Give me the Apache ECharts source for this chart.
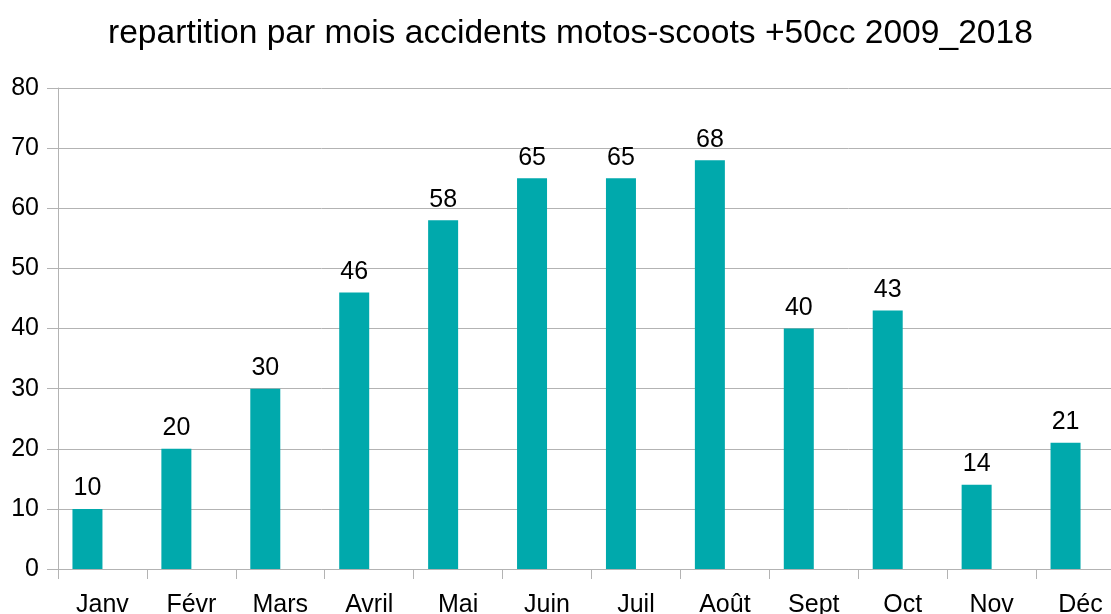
<!DOCTYPE html>
<html><head><meta charset="utf-8">
<script src="https://cdn.jsdelivr.net/npm/echarts@6/dist/echarts.min.js"></script>
<style>html,body{margin:0;padding:0;background:#fff}#c{width:1111px;height:614px}</style>
</head><body><div id="c"></div>
<script>
const titleText = "repartition par mois accidents motos-scoots +50cc 2009_2018";
const categories = ["Janv","Févr","Mars","Avril","Mai","Juin","Juil","Août","Sept","Oct","Nov","Déc"];
const accidents = [10,20,30,46,58,65,65,68,40,43,14,21];
const emptySeries = [null,null,null,null,null,null,null,null,null,null,null,null];
const yTicks = {min:0, max:80, interval:10};

const font = "'Liberation Sans', Arial, sans-serif";
const chart = echarts.init(document.getElementById('c'), null, {renderer:'canvas'});
chart.setOption({
  animation:false,
  backgroundColor:'#ffffff',
  title:{text:titleText, left:103, top:12,
    textStyle:{fontFamily:font, fontSize:33.6, fontWeight:'normal', color:'#000'}},
  grid:{left:58, width:1067, top:88, height:481, containLabel:false, outerBoundsMode:'none'},
  xAxis:{type:'category', data:categories,
    axisLine:{show:true, lineStyle:{color:'#b3b3b3', width:1}},
    axisTick:{show:true, alignWithLabel:false, length:10, lineStyle:{color:'#b3b3b3'}},
    axisLabel:{fontFamily:font, fontSize:25, color:'#000', margin:24, interval:0},
    splitLine:{show:false}},
  yAxis:{type:'value', min:yTicks.min, max:yTicks.max, interval:yTicks.interval,
    axisLine:{show:true, lineStyle:{color:'#b3b3b3', width:1}},
    axisTick:{show:true, length:11, lineStyle:{color:'#b3b3b3'}},
    axisLabel:{fontFamily:font, fontSize:25, color:'#000', margin:19},
    splitLine:{show:true, lineStyle:{color:'#b3b3b3', width:1}}},
  series:[
    {type:'bar', name:'accidents', data:accidents, barWidth:30, barGap:'0%',
     itemStyle:{color:'#00a9ac'},
     label:{show:true, position:'top', distance:8, fontFamily:font, fontSize:25, color:'#000'}},
    {type:'bar', name:'vide', data:emptySeries, barWidth:30, barGap:'0%',
     itemStyle:{color:'#00a9ac'}}
  ]
});
</script></body></html>
